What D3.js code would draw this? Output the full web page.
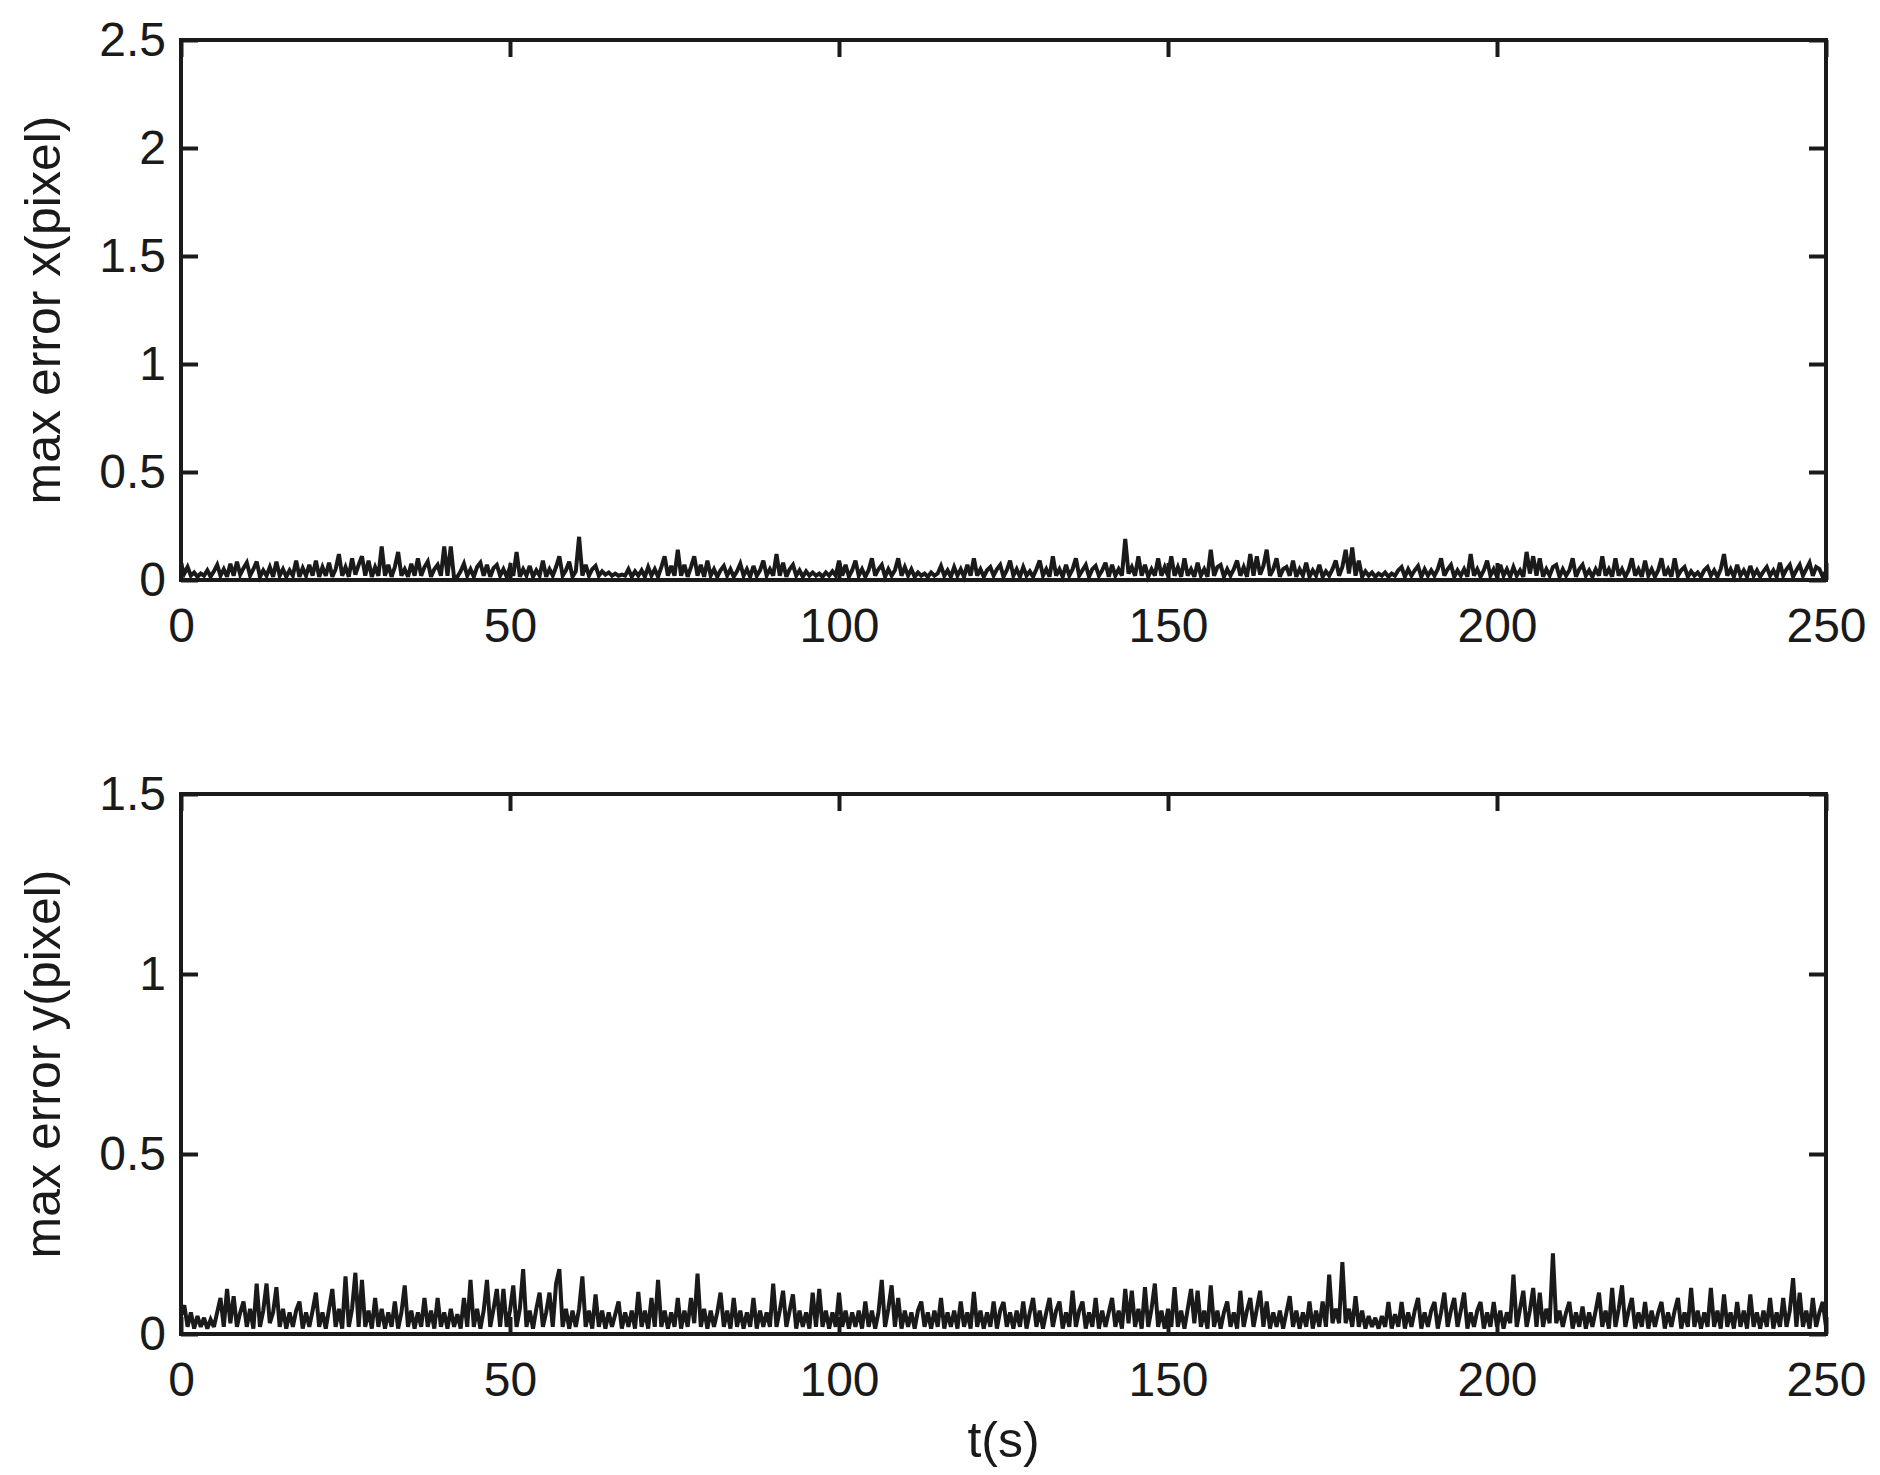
<!DOCTYPE html>
<html><head><meta charset="utf-8">
<script src="https://cdn.jsdelivr.net/npm/d3@7"></script>
<style>
body{margin:0;background:#fff}
svg{display:block}
text{font-family:"Liberation Sans",Arial,Helvetica,sans-serif;fill:#1a1a1a}
</style>
</head><body>
<svg id="chart" width="1880" height="1475"></svg>
<script>
// sampling interval of the error series (seconds)
const tStep = 0.5;

// max error in x (pixel), one value every 0.5 s from t=0 to t=250
const errX = [
0.075,0.03,0.06,0.02,0.035,0.015,0.03,0.02,0.045,0.015,0.04,0.07,0.02,0.05,0.015,0.075,0.02,0.085,0.025,0.055,
0.08,0.02,0.05,0.085,0.015,0.045,0.02,0.06,0.015,0.085,0.02,0.05,0.015,0.045,0.02,0.09,0.015,0.055,0.02,0.07,
0.02,0.09,0.015,0.06,0.02,0.08,0.015,0.05,0.12,0.02,0.06,0.015,0.1,0.025,0.07,0.11,0.02,0.09,0.015,0.06,
0.02,0.155,0.02,0.07,0.015,0.06,0.13,0.02,0.05,0.015,0.075,0.02,0.1,0.02,0.06,0.085,0.015,0.05,0.07,0.02,
0.155,0.02,0.155,0.01,0.015,0.04,0.075,0.02,0.05,0.015,0.06,0.08,0.02,0.07,0.015,0.055,0.07,0.02,0.05,0.015,
0.06,0.02,0.13,0.015,0.05,0.02,0.065,0.015,0.045,0.02,0.09,0.015,0.05,0.02,0.06,0.11,0.02,0.045,0.085,0.015,
0.04,0.2,0.02,0.07,0.02,0.05,0.065,0.02,0.04,0.025,0.035,0.02,0.03,0.02,0.025,0.02,0.05,0.015,0.04,0.02,
0.045,0.015,0.06,0.02,0.05,0.015,0.06,0.11,0.02,0.065,0.02,0.14,0.02,0.07,0.015,0.06,0.11,0.02,0.07,0.015,
0.09,0.02,0.05,0.015,0.045,0.065,0.02,0.05,0.015,0.04,0.075,0.02,0.05,0.015,0.065,0.02,0.045,0.09,0.02,0.05,
0.02,0.12,0.02,0.08,0.015,0.05,0.07,0.02,0.045,0.015,0.04,0.02,0.035,0.02,0.03,0.015,0.035,0.02,0.04,0.02,
0.09,0.02,0.07,0.015,0.045,0.09,0.02,0.05,0.015,0.045,0.1,0.02,0.05,0.07,0.015,0.05,0.02,0.045,0.1,0.02,
0.06,0.02,0.05,0.015,0.035,0.02,0.03,0.015,0.035,0.02,0.03,0.065,0.02,0.045,0.015,0.06,0.02,0.05,0.015,0.07,
0.02,0.1,0.02,0.05,0.015,0.045,0.06,0.02,0.05,0.07,0.015,0.045,0.09,0.02,0.05,0.015,0.06,0.02,0.04,0.015,
0.05,0.09,0.02,0.05,0.015,0.11,0.02,0.05,0.015,0.07,0.02,0.05,0.1,0.02,0.045,0.07,0.015,0.05,0.065,0.02,
0.045,0.08,0.015,0.07,0.02,0.05,0.02,0.19,0.03,0.06,0.02,0.11,0.02,0.07,0.015,0.05,0.02,0.1,0.02,0.06,
0.02,0.11,0.02,0.06,0.015,0.1,0.02,0.05,0.015,0.08,0.02,0.05,0.015,0.14,0.02,0.06,0.07,0.015,0.05,0.02,
0.05,0.09,0.02,0.06,0.015,0.12,0.02,0.11,0.025,0.065,0.14,0.02,0.05,0.1,0.015,0.05,0.06,0.02,0.09,0.015,
0.05,0.02,0.08,0.015,0.045,0.02,0.07,0.015,0.04,0.02,0.05,0.09,0.02,0.06,0.14,0.03,0.15,0.02,0.09,0.015,
0.04,0.02,0.035,0.015,0.03,0.02,0.035,0.015,0.03,0.02,0.045,0.06,0.015,0.05,0.02,0.045,0.065,0.015,0.05,0.02,
0.045,0.02,0.05,0.1,0.02,0.05,0.07,0.015,0.045,0.02,0.05,0.015,0.12,0.02,0.05,0.015,0.045,0.09,0.02,0.05,
0.015,0.07,0.02,0.05,0.015,0.06,0.02,0.045,0.015,0.13,0.03,0.11,0.02,0.1,0.015,0.05,0.02,0.06,0.07,0.015,
0.05,0.02,0.045,0.1,0.015,0.05,0.07,0.02,0.045,0.015,0.05,0.02,0.11,0.02,0.05,0.015,0.1,0.02,0.05,0.015,
0.045,0.1,0.02,0.05,0.015,0.09,0.02,0.05,0.015,0.045,0.1,0.02,0.05,0.015,0.1,0.02,0.045,0.06,0.015,0.04,
0.02,0.035,0.015,0.045,0.06,0.02,0.045,0.015,0.05,0.12,0.02,0.05,0.015,0.07,0.02,0.045,0.015,0.065,0.02,0.045,
0.015,0.04,0.06,0.02,0.045,0.015,0.08,0.02,0.05,0.07,0.015,0.045,0.07,0.02,0.05,0.08,0.02,0.06,0.05,0.015,
0.04
];

// max error in y (pixel), one value every 0.5 s from t=0 to t=250
const errY = [
0.05,0.08,0.02,0.06,0.015,0.05,0.02,0.045,0.015,0.04,0.02,0.06,0.1,0.02,0.125,0.03,0.105,0.02,0.06,0.09,
0.02,0.07,0.015,0.14,0.02,0.065,0.14,0.03,0.06,0.13,0.02,0.07,0.015,0.06,0.02,0.065,0.09,0.015,0.06,0.02,
0.065,0.115,0.02,0.06,0.015,0.07,0.125,0.02,0.07,0.015,0.16,0.02,0.07,0.17,0.02,0.15,0.02,0.065,0.015,0.1,
0.02,0.07,0.015,0.06,0.02,0.09,0.015,0.06,0.135,0.02,0.065,0.015,0.06,0.02,0.1,0.02,0.065,0.015,0.1,0.02,
0.06,0.015,0.07,0.02,0.055,0.015,0.1,0.02,0.15,0.02,0.07,0.015,0.065,0.15,0.02,0.07,0.125,0.02,0.125,0.02,
0.065,0.135,0.02,0.07,0.18,0.02,0.065,0.015,0.07,0.115,0.02,0.06,0.115,0.02,0.14,0.18,0.02,0.07,0.015,0.065,
0.02,0.07,0.16,0.02,0.065,0.015,0.11,0.02,0.065,0.015,0.06,0.02,0.055,0.09,0.015,0.06,0.02,0.065,0.015,0.117,
0.02,0.065,0.015,0.1,0.02,0.15,0.02,0.065,0.015,0.06,0.02,0.1,0.015,0.065,0.02,0.1,0.03,0.168,0.02,0.07,
0.015,0.065,0.02,0.06,0.115,0.02,0.065,0.015,0.1,0.02,0.065,0.015,0.06,0.02,0.1,0.015,0.065,0.02,0.06,0.02,
0.14,0.02,0.065,0.12,0.02,0.065,0.11,0.015,0.065,0.02,0.06,0.015,0.115,0.02,0.125,0.02,0.065,0.015,0.06,0.02,
0.115,0.02,0.065,0.015,0.06,0.02,0.065,0.015,0.09,0.02,0.065,0.015,0.06,0.15,0.02,0.07,0.135,0.02,0.1,0.015,
0.065,0.02,0.06,0.015,0.065,0.09,0.02,0.06,0.015,0.065,0.02,0.1,0.015,0.06,0.02,0.065,0.015,0.09,0.02,0.06,
0.015,0.117,0.02,0.065,0.015,0.06,0.02,0.09,0.015,0.065,0.089,0.02,0.06,0.015,0.065,0.02,0.09,0.015,0.06,0.1,
0.02,0.065,0.015,0.06,0.1,0.02,0.065,0.09,0.015,0.06,0.02,0.12,0.02,0.065,0.09,0.015,0.06,0.02,0.1,0.015,
0.065,0.02,0.06,0.1,0.02,0.065,0.015,0.125,0.03,0.12,0.02,0.07,0.015,0.13,0.02,0.07,0.14,0.02,0.065,0.015,
0.07,0.02,0.13,0.02,0.065,0.015,0.07,0.125,0.03,0.12,0.02,0.065,0.015,0.135,0.02,0.065,0.015,0.06,0.09,0.02,
0.06,0.015,0.12,0.02,0.065,0.1,0.02,0.07,0.12,0.02,0.09,0.015,0.06,0.02,0.065,0.015,0.06,0.105,0.02,0.065,
0.015,0.06,0.02,0.09,0.015,0.065,0.02,0.09,0.02,0.165,0.03,0.07,0.03,0.2,0.03,0.07,0.02,0.105,0.02,0.065,
0.015,0.05,0.02,0.045,0.015,0.05,0.02,0.089,0.015,0.055,0.02,0.089,0.015,0.06,0.02,0.065,0.1,0.015,0.06,0.02,
0.065,0.089,0.015,0.06,0.115,0.02,0.065,0.1,0.02,0.065,0.115,0.015,0.06,0.02,0.065,0.089,0.015,0.06,0.02,0.089,
0.02,0.065,0.015,0.06,0.03,0.165,0.02,0.07,0.12,0.02,0.065,0.128,0.02,0.115,0.02,0.07,0.03,0.224,0.03,0.065,
0.02,0.06,0.089,0.015,0.06,0.02,0.076,0.015,0.06,0.02,0.065,0.115,0.02,0.065,0.015,0.128,0.02,0.07,0.135,0.02,
0.065,0.1,0.015,0.06,0.02,0.089,0.015,0.065,0.02,0.06,0.089,0.015,0.06,0.02,0.065,0.1,0.015,0.06,0.02,0.128,
0.02,0.065,0.015,0.06,0.02,0.128,0.02,0.065,0.015,0.11,0.02,0.06,0.015,0.089,0.02,0.065,0.015,0.11,0.02,0.06,
0.015,0.065,0.02,0.1,0.015,0.06,0.02,0.1,0.02,0.065,0.155,0.02,0.115,0.02,0.065,0.015,0.1,0.02,0.06,0.089,
0.02
];

const xTicks = [0, 50, 100, 150, 200, 250];
const yTicksX = [0, 0.5, 1, 1.5, 2, 2.5];
const yTicksY = [0, 0.5, 1, 1.5];
const xLabel = "t(s)";
const yLabelX = "max error x(pixel)";
const yLabelY = "max error y(pixel)";

const ink = "#1a1a1a";
const svg = d3.select("#chart");
const left = 181, right = 1826;
const tickLen = 17;

const panels = [
  {values: errX, yMax: 2.5, yTicks: yTicksX, top: 40, bottom: 580, label: yLabelX},
  {values: errY, yMax: 1.5, yTicks: yTicksY, top: 794, bottom: 1334, label: yLabelY}
];

const x = d3.scaleLinear().domain([0, 250]).range([left, right]);

panels.forEach((p, pi) => {
  const y = d3.scaleLinear().domain([0, p.yMax]).range([p.bottom, p.top]);
  const g = svg.append("g");

  const pts = p.values.map((v, i) => [i * tStep, v]);
  g.append("path")
    .datum(pts)
    .attr("fill", "none")
    .attr("stroke", ink)
    .attr("stroke-width", 4)
    .attr("stroke-linejoin", "miter")
    .attr("stroke-miterlimit", 3)
    .attr("d", d3.line().x(d => x(d[0])).y(d => y(d[1])));

  const styleAxis = sel => {
    sel.select(".domain").remove();
    sel.selectAll(".tick line").attr("stroke", ink).attr("stroke-width", 4);
    sel.selectAll(".tick text").attr("font-size", 48).attr("fill", ink)
      .style("font-family", '"Liberation Sans", Arial, sans-serif');
  };

  g.append("g").attr("transform", `translate(0,${p.bottom})`)
    .call(d3.axisBottom(x).tickValues(xTicks).tickSizeInner(-tickLen).tickSizeOuter(0)
      .tickPadding(28).tickFormat(d3.format("d")))
    .call(styleAxis);
  g.append("g").attr("transform", `translate(0,${p.top})`)
    .call(d3.axisTop(x).tickValues(xTicks).tickSizeInner(-tickLen).tickSizeOuter(0).tickFormat(""))
    .call(styleAxis);
  g.append("g").attr("transform", `translate(${left},0)`)
    .call(d3.axisLeft(y).tickValues(p.yTicks).tickSizeInner(-tickLen).tickSizeOuter(0)
      .tickPadding(15).tickFormat(d => String(d)))
    .call(styleAxis);
  g.append("g").attr("transform", `translate(${right},0)`)
    .call(d3.axisRight(y).tickValues(p.yTicks).tickSizeInner(-tickLen).tickSizeOuter(0).tickFormat(""))
    .call(styleAxis);

  g.append("rect")
    .attr("x", left).attr("y", p.top)
    .attr("width", right - left).attr("height", p.bottom - p.top)
    .attr("fill", "none").attr("stroke", ink).attr("stroke-width", 4);

  g.append("text")
    .attr("transform", `translate(60,${(p.top + p.bottom) / 2}) rotate(-90)`)
    .attr("text-anchor", "middle")
    .attr("font-size", 50)
    .text(p.label);
});

svg.append("text")
  .attr("x", (left + right) / 2).attr("y", 1457)
  .attr("text-anchor", "middle")
  .attr("font-size", 50)
  .text(xLabel);
</script>
</body></html>
